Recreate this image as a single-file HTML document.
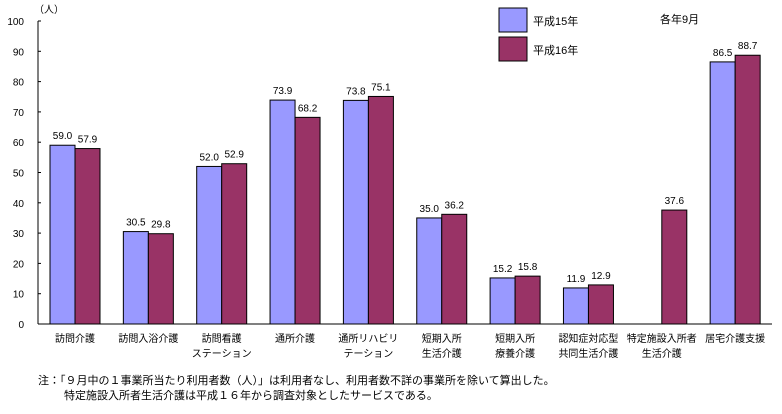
<!DOCTYPE html>
<html><head><meta charset="utf-8"><style>
body{margin:0;background:#fff;}
svg text{font-family:"Liberation Sans","Noto Sans CJK JP",sans-serif;fill:#000;}
</style></head><body>
<svg id="chart" width="782" height="409" xmlns="http://www.w3.org/2000/svg">
<text x="34" y="13" font-size="10">（人）</text>
<g id="yaxis"></g>
<g id="bars"></g>
<g id="xlabels"></g>
<rect x="499" y="8" width="28" height="24" fill="#9999ff" stroke="#000"/>
<text x="533" y="25" font-size="11">平成15年</text>
<rect x="499" y="37" width="28" height="24" fill="#993366" stroke="#000"/>
<text x="533" y="54" font-size="11">平成16年</text>
<text x="660" y="23" font-size="11">各年9月</text>
<text x="38" y="384" font-size="11">注：「９月中の１事業所当たり利用者数（人）」は利用者なし、利用者数不詳の事業所を除いて算出した。</text>
<text x="64" y="399" font-size="11">特定施設入所者生活介護は平成１６年から調査対象としたサービスである。</text>
</svg>
<script>
const categories=[["訪問介護"],["訪問入浴介護"],["訪問看護","ステーション"],["通所介護"],["通所リハビリ","テーション"],["短期入所","生活介護"],["短期入所","療養介護"],["認知症対応型","共同生活介護"],["特定施設入所者","生活介護"],["居宅介護支援"]];
const h15=[59.0,30.5,52.0,73.9,73.8,35.0,15.2,11.9,null,86.5];
const h16=[57.9,29.8,52.9,68.2,75.1,36.2,15.8,12.9,37.6,88.7];
const yTicks=[0,10,20,30,40,50,60,70,80,90,100];
const NS="http://www.w3.org/2000/svg";
const x0=38,x1=772,yb=324,yt=21;
const y=v=>yb-(v/100)*(yb-yt);
const gx=i=>50+i*73.35;
function mk(tag,attrs,parent){const e=document.createElementNS(NS,tag);for(const k in attrs)e.setAttribute(k,attrs[k]);parent.appendChild(e);return e;}
const ya=document.getElementById('yaxis');
let l=mk('line',{x1:x0,y1:yt,x2:x0,y2:yb,stroke:'#000'},ya);


l=mk('line',{x1:x0,y1:yb,x2:x1,y2:yb,stroke:'#000'},ya);


yTicks.forEach(t=>{
 const tk=mk('line',{x1:x0,y1:y(t),x2:x0+3,y2:y(t),stroke:'#000'},ya);
 
 
 const tx=mk('text',{x:24,y:y(t)+4,'font-size':10,'text-anchor':'end'},ya);
 tx.textContent=t;
 
 
});
const bg=document.getElementById('bars');
function bar(v,x,color,name){
 if(v==null)return;
 const r=mk('rect',{x:x,y:y(v),width:25,height:yb-y(v),fill:color,stroke:'#000','stroke-width':1},bg);
 
 
 const t=mk('text',{x:x+12.5,y:y(v)-6,'font-size':10,'text-anchor':'middle'},bg);
 t.textContent=v.toFixed(1);
 
 
}
const xl=document.getElementById('xlabels');
categories.forEach((c,i)=>{
 bar(h15[i],gx(i),'#9999ff','bar-h15');
 bar(h16[i],gx(i)+25,'#993366','bar-h16');
 c.forEach((s,j)=>{
  const t=mk('text',{x:gx(i)+25,y:342+j*15,'font-size':10,'text-anchor':'middle'},xl);
  t.textContent=s;
  
  
 });
});
</script>
</body></html>
